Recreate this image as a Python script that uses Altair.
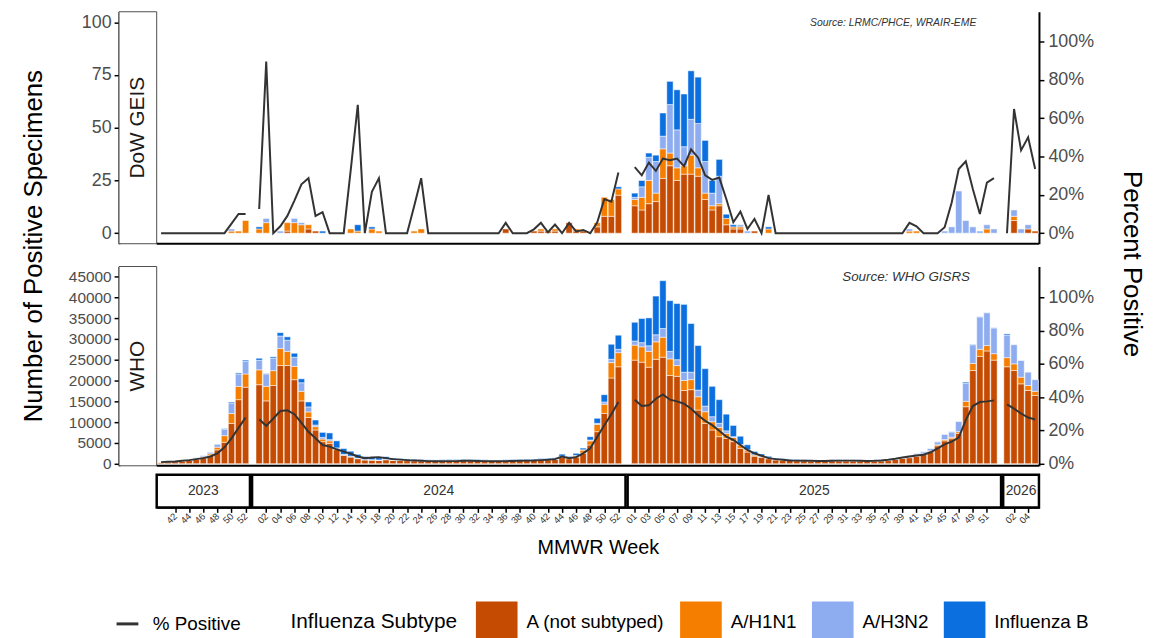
import altair as alt
import pandas as pd

FONT = "Liberation Sans"

# ---------------- categories ----------------
YEARS = [2023, 2024, 2025, 2026]
WEEKS = {
    2023: list(range(40, 53)),
    2024: list(range(1, 53)),
    2025: list(range(1, 53)),
    2026: list(range(1, 6)),
}
TICK_WEEKS = {
    2023: [42, 44, 46, 48, 50, 52],
    2024: list(range(2, 53, 2)),
    2025: list(range(1, 52, 2)),
    2026: [2, 4],
}
SUBTYPES = ["A (not subtyped)", "A/H1N1", "A/H3N2", "Influenza B"]
COLORS = ["#C64B02", "#F57D00", "#8EADF0", "#0B6FDF"]

# ---------------- DoW GEIS (counts) ----------------
GEIS_A = (
    [0, 0, 0, 0, 0, 0, 0, 0, 0, 0, 0, 0, 0]
    + [0, 0, 0, 0, 1, 0, 0, 2, 1, 0,
       0, 0, 0, 0, 0, 0, 0, 0, 0, 0,
       0, 0, 0, 0, 0, 0, 0, 0, 0, 0,
       0, 0, 0, 0, 0, 2, 0, 0, 0, 1,
       1, 1, 1, 0, 5, 1, 1, 0, 3, 8,
       8, 18]
    + [13, 11, 14, 15, 26, 32, 25, 28, 28, 27,
       16, 11, 13, 4, 2, 2, 0, 1, 0, 0,
       0, 0, 0, 0, 0, 0, 0, 0, 0, 0,
       0, 0, 0, 0, 0, 0, 0, 0, 0, 0,
       0, 0, 0, 0, 0, 0, 0, 0, 0, 0,
       0, 0]
    + [0, 6, 0, 2, 1]
)
GEIS_H1N1 = (
    [0, 0, 0, 0, 0, 0, 0, 0, 0, 0, 1, 1, 6]
    + [2, 5, 0, 0, 4, 5, 4, 2, 0, 0,
       0, 0, 0, 2, 1, 0, 2, 1, 0, 0,
       0, 0, 1, 2, 0, 0, 0, 0, 0, 0,
       0, 0, 0, 0, 0, 0, 0, 0, 0, 0,
       1, 0, 1, 0, 0, 1, 0, 0, 2, 9,
       8, 3]
    + [3, 6, 11, 4, 14, 6, 6, 4, 9, 4,
       3, 2, 1, 3, 1, 1, 0, 0, 0, 2,
       0, 0, 0, 0, 0, 0, 0, 0, 0, 0,
       0, 0, 0, 0, 0, 0, 0, 0, 0, 1,
       1, 0, 0, 0, 0, 0, 0, 0, 0, 0,
       2, 0]
    + [0, 2, 0, 0, 0]
)
GEIS_H3N2 = (
    [0, 0, 0, 0, 0, 0, 0, 0, 0, 0, 1, 0, 0]
    + [0, 2, 0, 1, 0, 2, 1, 0, 0, 0,
       0, 0, 0, 0, 0, 0, 0, 0, 0, 0,
       0, 0, 0, 0, 0, 0, 0, 0, 0, 0,
       0, 0, 0, 0, 0, 0, 0, 0, 0, 0,
       0, 0, 0, 0, 0, 0, 0, 0, 0, 0,
       0, 0]
    + [1, 5, 11, 15, 6, 23, 18, 9, 17, 21,
       15, 6, 13, 0, 0, 1, 1, 0, 0, 0,
       0, 0, 0, 0, 0, 0, 0, 0, 0, 0,
       0, 0, 0, 0, 0, 0, 0, 0, 0, 1,
       0, 0, 0, 0, 1, 3, 20, 6, 3, 1,
       2, 2]
    + [0, 3, 2, 2, 0]
)
GEIS_B = (
    [0, 0, 0, 0, 0, 0, 0, 0, 0, 0, 0, 0, 0]
    + [1, 0, 0, 0, 0, 0, 0, 0, 0, 1,
       0, 0, 0, 0, 3, 0, 1, 0, 0, 0,
       0, 0, 0, 0, 0, 0, 0, 0, 0, 0,
       0, 0, 0, 0, 0, 0, 0, 0, 0, 0,
       0, 0, 0, 0, 0, 0, 0, 0, 0, 0,
       0, 1]
    + [2, 3, 2, 3, 11, 11, 19, 25, 23, 22,
       10, 6, 8, 2, 1, 0, 0, 0, 0, 1,
       0, 0, 0, 0, 0, 0, 0, 0, 0, 0,
       0, 0, 0, 0, 0, 0, 0, 0, 0, 0,
       0, 0, 0, 0, 0, 0, 0, 0, 0, 0,
       0, 0]
    + [0, 0, 0, 0, 0]
)
GEIS_PCT = (
    [0, 0, 0, 0, 0, 0, 0, 0, 0, 0, 5, 10, 10]
    + [12.6, 89.5, 0, 3.6, 9, 17, 25.5, 28.7, 9, 11,
       0, 0, 0, 33, 67, 0, 21.6, 28.7, 0, 0,
       0, 0, 14, 28.7, 0, 0, 0, 0, 0, 0,
       0, 0, 0, 0, 0, 5.4, 0, 0, 0, 2,
       5.4, 0.5, 4.5, 0, 5.4, 0.9, 1.7, 0, 5.7, 17.8,
       16.4, 31.6]
    + [34.5, 30.2, 36.8, 32.5, 38.9, 38, 38.9, 35, 43.7, 39.4,
       30.2, 27.8, 29, 17.8, 5.7, 11.2, 2.2, 7.4, 0, 19.9,
       0, 0, 0, 0, 0, 0, 0, 0, 0, 0,
       0, 0, 0, 0, 0, 0, 0, 0, 0, 5.4,
       3.6, 0, 0, 0, 3.1, 16, 33.5, 37.5, 23, 10,
       26.4, 28.7]
    + [0, 64.8, 43.2, 50, 33.5]
)

# ---------------- WHO GISRS (counts) ----------------
WHO_A = (
    [350, 420, 500, 600, 800, 1000, 1400, 2000, 3330, 5160, 9680, 15400, 18400]
    + [19000, 15100, 18800, 23600, 23600, 20200, 15100, 11100, 8100, 5300,
       4900, 3400, 2000, 1600, 1200, 900, 850, 800, 950, 800,
       800, 750, 700, 680, 650, 650, 680, 720, 720, 750,
       720, 720, 700, 660, 660, 700, 740, 750, 780, 820,
       900, 930, 1000, 1500, 1200, 1600, 2500, 4500, 7700, 12100,
       20600, 23300]
    + [24900, 24400, 23200, 25100, 25600, 21200, 21000, 17600, 17800, 12900,
       9700, 8100, 6500, 6100, 5300, 3700, 2800, 1800, 1500, 1200,
       900, 820, 760, 720, 680, 650, 650, 650, 680, 680,
       680, 680, 660, 650, 650, 680, 750, 1000, 1250, 1450,
       1800, 2200, 2900, 4300, 5500, 6000, 7300, 13700, 22400, 25800,
       27100, 24900]
    + [23300, 22400, 19200, 17600, 16400]
)
WHO_H1N1 = (
    [50, 60, 70, 90, 120, 170, 250, 370, 630, 1590, 2380, 3170, 3170]
    + [3570, 3500, 3570, 4100, 3400, 3200, 2300, 1350, 800, 630,
       600, 250, 150, 100, 100, 80, 70, 60, 80, 60,
       50, 50, 40, 40, 40, 40, 40, 40, 40, 40,
       40, 40, 40, 40, 40, 40, 40, 40, 40, 50,
       60, 70, 90, 200, 150, 300, 800, 1000, 1750, 2200,
       3700, 3400]
    + [3600, 3700, 3800, 4200, 4800, 4000, 2600, 2400, 2400, 3200,
       2800, 2000, 2200, 1200, 1000, 800, 500, 300, 200, 150,
       120, 100, 90, 80, 70, 60, 60, 60, 60, 60,
       60, 60, 60, 60, 60, 60, 50, 70, 80, 100,
       120, 150, 200, 250, 300, 350, 400, 1300, 1700, 1700,
       1300, 1550]
    + [2200, 1600, 1600, 1200, 1000]
)
WHO_H3N2 = (
    [40, 50, 60, 80, 140, 180, 300, 380, 710, 1510, 2540, 3000, 3000]
    + [2300, 3000, 3000, 3000, 2700, 2200, 2060, 1200, 400, 400,
       300, 150, 100, 100, 50, 50, 50, 40, 50, 40,
       40, 40, 40, 40, 40, 40, 50, 50, 50, 50,
       50, 50, 50, 50, 50, 50, 50, 50, 50, 50,
       60, 60, 60, 100, 100, 100, 50, 200, 250, 550,
       800, 800]
    + [1000, 1000, 1350, 1700, 2100, 1800, 1400, 2000, 1800, 1600,
       1350, 1200, 1000, 600, 200, 100, 50, 50, 30, 30,
       30, 30, 30, 30, 30, 30, 30, 40, 40, 40,
       40, 40, 40, 40, 50, 60, 100, 150, 220, 300,
       430, 500, 550, 700, 1250, 1300, 2450, 4300, 4500, 7800,
       7900, 6200]
    + [5400, 4600, 4000, 3200, 2800]
)
WHO_B = (
    [10, 20, 20, 30, 40, 50, 50, 50, 80, 160, 240, 250, 320]
    + [480, 100, 320, 800, 800, 950, 950, 1200, 1200, 1200,
       1600, 1700, 1400, 1200, 900, 700, 600, 550, 600, 450,
       350, 300, 250, 220, 200, 180, 180, 190, 200, 200,
       200, 190, 180, 170, 160, 170, 180, 180, 200, 200,
       220, 230, 250, 500, 300, 500, 400, 800, 1200, 1750,
       3600, 3400]
    + [4500, 5800, 6700, 9300, 11500, 12200, 13500, 16300, 11700, 10700,
       9000, 7300, 5700, 4000, 2700, 2000, 1200, 800, 600, 400,
       300, 250, 200, 180, 160, 150, 150, 150, 150, 150,
       150, 150, 140, 140, 140, 150, 50, 50, 50, 50,
       50, 50, 50, 50, 50, 50, 50, 300, 100, 50,
       50, 50]
    + [300, 0, 0, 0, 0]
)
WHO_PCT = (
    [1.0, 1.2, 1.4, 1.8, 2.2, 2.8, 3.4, 4.4, 6.3, 9.9, 15.3, 21.6, 27.8]
    + [26.8, 22.8, 27.2, 31.7, 32.1, 29.8, 24.6, 19.2, 15.3, 11.3,
       10.3, 8.7, 7.3, 6.0, 4.4, 3.4, 3.8, 4.0, 3.4, 2.8,
       2.5, 2.2, 2.0, 1.8, 1.6, 1.5, 1.5, 1.6, 1.6, 1.8,
       1.8, 1.7, 1.6, 1.5, 1.5, 1.6, 1.7, 1.8, 1.9, 2.0,
       2.2, 2.4, 2.8, 4.4, 3.4, 4.0, 6.3, 9.3, 16.3, 23.2,
       29.8, 37.1]
    + [38.5, 34.7, 35.1, 39.1, 41.7, 38.5, 37.5, 36.1, 33.1, 29.2,
       25.8, 23.2, 19.8, 16.3, 14.3, 11.3, 8.3, 6.3, 4.8, 3.4,
       2.8, 2.4, 2.0, 1.9, 1.8, 1.8, 1.7, 1.7, 1.8, 1.9,
       1.9, 1.9, 1.8, 1.7, 1.8, 2.0, 2.4, 3.0, 3.8, 4.4,
       5.0, 5.4, 6.9, 9.3, 11.7, 13.3, 15.7, 26.2, 34.7, 37.1,
       37.5, 38.1]
    + [35.7, 33.1, 30.2, 27.8, 26.6]
)

# ---------------- build tables ----------------
KEYS = [(y, w) for y in YEARS for w in WEEKS[y]]
for lst in (GEIS_A, GEIS_H1N1, GEIS_H3N2, GEIS_B, GEIS_PCT,
            WHO_A, WHO_H1N1, WHO_H3N2, WHO_B, WHO_PCT):
    assert len(lst) == len(KEYS), len(lst)

# one panel per year (widths proportional to weeks, small gap between)
PANEL_GAP = 0.3
POS, SPAN = {}, {}
cursor = 0.0
for y in YEARS:
    n = len(WEEKS[y])
    pad = 0.5 + 0.01 * (n - 1)
    for j, w in enumerate(WEEKS[y]):
        POS[(y, w)] = cursor + pad + j
    end = cursor + 2 * pad + (n - 1)
    SPAN[y] = (cursor, end)
    cursor = end + PANEL_GAP

bar_rows, line_rows = [], []
for src, series, pct in (
    ("GEIS", [GEIS_A, GEIS_H1N1, GEIS_H3N2, GEIS_B], GEIS_PCT),
    ("WHO", [WHO_A, WHO_H1N1, WHO_H3N2, WHO_B], WHO_PCT),
):
    for order, (sub, vals) in enumerate(zip(SUBTYPES, series)):
        for (y, w), v in zip(KEYS, vals):
            if v > 0:
                bar_rows.append(dict(source=src, year=y, week=w, pos=POS[(y, w)],
                                     subtype=sub, order=order, count=v))
    for (y, w), p in zip(KEYS, pct):
        line_rows.append(dict(source=src, year=y, pos=POS[(y, w)], pct=p,
                              series="% Positive"))
bar_df = pd.DataFrame(bar_rows)
line_df = pd.DataFrame(line_rows)

year_df = pd.DataFrame([
    dict(label=str(y), start=SPAN[y][0], end=SPAN[y][1],
         mid=(SPAN[y][0] + SPAN[y][1]) / 2)
    for y in YEARS
])

X_DOMAIN = [SPAN[YEARS[0]][0], SPAN[YEARS[-1]][1]]
x_scale = alt.Scale(domain=X_DOMAIN, nice=False, zero=False)

TICK_POS = [round(POS[(y, w)], 3) for y in YEARS for w in TICK_WEEKS[y]]
_w = ""
for y in YEARS[:-1]:
    _w += (f"datum.value < {SPAN[y][1]:.3f} ? "
           f"round(datum.value - {POS[(y, WEEKS[y][0])]:.3f}) + {WEEKS[y][0]} : ")
_yl = YEARS[-1]
_w += f"round(datum.value - {POS[(_yl, WEEKS[_yl][0])]:.3f}) + {WEEKS[_yl][0]}"
LABEL_EXPR = f"(({_w}) < 10 ? '0' : '') + ({_w})"

W = 890
LEG_Y = 595

fill_legend = alt.Legend(
    title="Influenza Subtype", orient="none", legendX=135, legendY=LEG_Y,
    direction="horizontal", titleOrient="left", symbolType="square",
    symbolSize=1764, symbolStrokeWidth=0, labelFontSize=19, titleFontSize=21,
    titleFontWeight="normal", titleColor="black", labelColor="black",
    labelFont=FONT, titleFont=FONT, labelOffset=9, columnPadding=15,
    titlePadding=18, titleBaseline="middle", titleAnchor="middle",
)
stroke_legend = alt.Legend(
    title=None, orient="none", legendX=-42, legendY=LEG_Y + 10,
    symbolType="stroke", symbolStrokeWidth=3, symbolSize=484,
    labelFontSize=19, labelColor="black", labelFont=FONT, labelOffset=13,
)


def panel(source, plot_h, extra, y_dom, y_ticks, y_lab_size, p_dom,
          strip_label, src_label, src_x, src_size, titles):
    bdf = bar_df[bar_df.source == source]
    ldf = line_df[line_df.source == source]
    left_axis = alt.Axis(
        orient="left", offset=38, values=y_ticks, format="d", grid=False,
        labelFontSize=y_lab_size, labelColor="#4d4d4d", labelFont=FONT,
        labelPadding=3, tickColor="black", tickWidth=1.5, tickSize=5,
        domainColor="black", domainWidth=2,
        title="Number of Positive Specimens" if titles else None,
        titleFontSize=26, titleFontWeight="normal", titleColor="black",
        titleFont=FONT, titleX=-86, titleY=-21, titleAngle=270,
        titleAlign="center", titleBaseline="middle",
    )
    right_axis = alt.Axis(
        orient="right", values=[0, 20, 40, 60, 80, 100],
        labelExpr="datum.value + '%'", grid=False,
        labelFontSize=18, labelColor="#4d4d4d", labelFont=FONT, labelPadding=4,
        tickColor="black", tickWidth=1.5, tickSize=5,
        domainColor="black", domainWidth=2,
        title="Percent Positive" if titles else None,
        titleFontSize=26, titleFontWeight="normal", titleColor="black",
        titleFont=FONT, titleX=93, titleY=-3, titleAngle=90,
        titleAlign="center", titleBaseline="middle",
    )
    bars = (
        alt.Chart(bdf)
        .transform_calculate(x0="datum.pos - 0.45", x1="datum.pos + 0.45")
        .transform_stack(stack="count", groupby=["pos"], as_=["y0", "y1"],
                         sort=[alt.SortField("order", order="ascending")])
        .mark_bar(stroke="white", strokeWidth=0.5)
        .encode(
            x=alt.X("x0:Q", scale=x_scale, axis=None),
            x2="x1:Q",
            y=alt.Y("y0:Q", scale=alt.Scale(domain=y_dom, range=[plot_h, 0],
                                            nice=False, zero=False),
                    axis=left_axis),
            y2="y1:Q",
            fill=alt.Fill("subtype:N",
                          scale=alt.Scale(domain=SUBTYPES, range=COLORS),
                          legend=fill_legend),
        )
    )
    line = (
        alt.Chart(ldf)
        .mark_line(strokeWidth=2)
        .encode(
            x=alt.X("pos:Q", scale=x_scale, axis=None),
            y=alt.Y("pct:Q", scale=alt.Scale(domain=p_dom, range=[plot_h, 0],
                                             nice=False, zero=False),
                    axis=right_axis),
            detail="year:N",
            stroke=alt.Stroke("series:N",
                              scale=alt.Scale(domain=["% Positive"],
                                              range=["#333333"]),
                              legend=stroke_legend),
        )
    )
    deco = pd.DataFrame({"strip": [strip_label], "src": [src_label]})
    strip_rect = alt.Chart(deco).mark_rect(
        fill="white", stroke="#4d4d4d", strokeWidth=1
    ).encode(x=alt.value(-38), x2=alt.value(0), y=alt.value(0),
             y2=alt.value(plot_h))
    strip_text = alt.Chart(deco).mark_text(
        angle=270, fontSize=21, font=FONT, color="#1a1a1a",
        align="center", baseline="middle"
    ).encode(x=alt.value(-19), y=alt.value(plot_h / 2), text="strip:N")
    base_rule = alt.Chart(deco).mark_rule(color="black", strokeWidth=2).encode(
        x=alt.value(0), x2=alt.value(W), y=alt.value(plot_h))
    src_text = alt.Chart(deco).mark_text(
        fontSize=src_size, fontStyle="italic", font=FONT, color="#333333",
        align="center", baseline="middle"
    ).encode(x=alt.value(src_x), y=alt.value(11), text="src:N")
    return (
        alt.layer(bars, line, strip_rect, strip_text, base_rule, src_text)
        .resolve_scale(y="independent")
        .properties(width=W, height=plot_h + extra)
    )


top = panel("GEIS", 234, 23, [-5, 105], [0, 25, 50, 75, 100], 18,
            [-5.5, 115.5], "DoW GEIS", "Source: LRMC/PHCE, WRAIR-EME",
            743, 10.5, False)
who = panel("WHO", 201, 9, [-500, 47400], list(range(0, 45001, 5000)), 15.5,
            [-1.2, 118.5], "WHO", "Source: WHO GISRS", 756, 13.5, True)

strip_axis = alt.Axis(
    orient="bottom", values=TICK_POS, labelExpr=LABEL_EXPR, labelAngle=315,
    labelAlign="right", labelBaseline="middle", labelFontSize=9.5,
    labelOverlap=False, labelColor="#333333", labelFont=FONT, labelPadding=2,
    grid=False, tickColor="black", tickWidth=1.5, tickSize=5,
    domainColor="black", domainWidth=1.5, title="MMWR Week", titleFontSize=20,
    titleFontWeight="normal", titleColor="black", titleFont=FONT,
    titlePadding=13,
)
year_rect = alt.Chart(year_df).mark_rect(
    fill="white", stroke="black", strokeWidth=2.5
).encode(
    x=alt.X("start:Q", scale=x_scale, axis=strip_axis),
    x2="end:Q", y=alt.value(0), y2=alt.value(33),
)
year_text = alt.Chart(year_df).mark_text(
    fontSize=14, font=FONT, color="#333333", align="center", baseline="middle"
).encode(
    x=alt.X("mid:Q", scale=x_scale, axis=strip_axis),
    y=alt.value(16.5), text="label:N",
)
strip = alt.layer(year_rect, year_text).properties(width=W, height=33)

chart = (
    alt.vconcat(top, who, strip, spacing=0, bounds="flush")
    .properties(padding={"left": 12, "top": 0, "right": 5, "bottom": 0})
    .configure(font=FONT)
    .configure_view(stroke=None)
)

chart.save("out.html", embed_options={"renderer": "svg", "actions": False})
